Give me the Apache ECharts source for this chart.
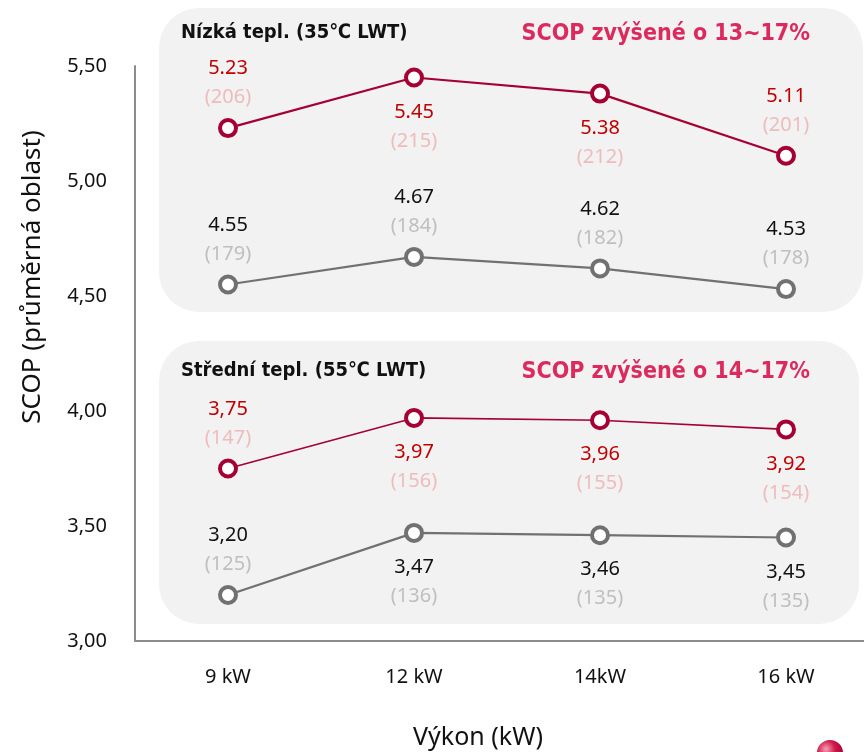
<!DOCTYPE html>
<html>
<head>
    <meta charset="utf-8" />
    <title>SCOP</title>
    <script src="https://cdn.jsdelivr.net/npm/echarts@6/dist/echarts.min.js"></script>
    <style>
        html, body { margin: 0; padding: 0; background: #fff; }
        #main { width: 864px; height: 752px; }
    </style>
</head>
<body>
<div id="main"></div>
<script type="text/javascript">
    // kategorie (vykon)
    var categories = ['9 kW', '12 kW', '14kW', '16 kW'];

    // nizka tepl. 35C LWT
    var lowNew = [5.23, 5.45, 5.38, 5.11];
    var lowNewCnt = [206, 215, 212, 201];
    var lowOld = [4.55, 4.67, 4.62, 4.53];
    var lowOldCnt = [179, 184, 182, 178];

    // stredni tepl. 55C LWT
    var midNew = [3.75, 3.97, 3.96, 3.92];
    var midNewCnt = [147, 156, 155, 154];
    var midOld = [3.20, 3.47, 3.46, 3.45];
    var midOldCnt = [125, 136, 135, 135];

    // kde je popisek (nad / pod bodem)
    var lowNewPos = ['top', 'bottom', 'bottom', 'top'];
    var lowOldPos = ['top', 'top', 'top', 'top'];
    var midNewPos = ['top', 'bottom', 'bottom', 'bottom'];
    var midOldPos = ['top', 'bottom', 'bottom', 'bottom'];

    var RED = '#a50034';
    var GRAY = '#717171';
    var FONT = 'Noto Sans';
    var HEAD = 'DejaVu Sans Condensed';

    function makeSeries(name, vals, cnts, pos, color, width, valColor, cntColor, comma) {
        var data = [];
        for (var i = 0; i < vals.length; i++) {
            data.push({
                value: vals[i],
                cnt: cnts[i],
                label: { position: pos[i], distance: pos[i] == 'top' ? 6 : 10 }
            });
        }
        return {
            name: name,
            type: 'line',
            data: data,
            symbol: 'circle',
            symbolSize: 16,
            lineStyle: { color: color, width: width },
            itemStyle: { color: '#ffffff', borderColor: color, borderWidth: 4 },
            label: {
                show: true,
                formatter: function (p) {
                    var v = p.data.value.toFixed(2);
                    if (comma) v = v.replace('.', ',');
                    return '{v|' + v + '}\n{c|(' + p.data.cnt + ')}';
                },
                rich: {
                    v: { fontFamily: FONT, fontSize: 20, color: valColor, lineHeight: 29, align: 'center' },
                    c: { fontFamily: FONT, fontSize: 20, color: cntColor, lineHeight: 29, align: 'center' }
                }
            },
            emphasis: { disabled: true },
            z: 5
        };
    }

    var option = {
        backgroundColor: '#ffffff',
        animation: false,
        grid: { left: 135, top: 66, width: 744, height: 575, outerBoundsMode: 'none', containLabel: false },
        xAxis: {
            type: 'category',
            data: categories,
            boundaryGap: true,
            axisLine: { lineStyle: { color: '#8c8c8c', width: 2 } },
            axisTick: { show: false },
            axisLabel: { fontFamily: FONT, fontSize: 20, color: '#111', margin: 26 },
            name: 'Výkon (kW)',
            nameLocation: 'middle',
            nameGap: 84,
            nameTextStyle: { fontFamily: FONT, fontSize: 25, color: '#111', padding: [0, 58, 0, 0] }
        },
        yAxis: {
            type: 'value',
            min: 3,
            max: 5.5,
            interval: 0.5,
            axisLine: { show: true, lineStyle: { color: '#8c8c8c', width: 2 } },
            axisTick: { show: false },
            splitLine: { show: false },
            axisLabel: {
                fontFamily: FONT, fontSize: 20, color: '#111', margin: 28,
                formatter: function (v) { return v.toFixed(2).replace('.', ','); }
            }
        },
        graphic: [
            { type: 'rect', shape: { x: 159, y: 8, width: 704, height: 304, r: 40 }, style: { fill: '#f2f2f2' }, z: -10 },
            { type: 'rect', shape: { x: 159, y: 341, width: 700, height: 283, r: 40 }, style: { fill: '#f2f2f2' }, z: -10 },
            { type: 'text', left: 181, top: 23, style: { text: 'Nízká tepl. (35℃ LWT)', font: 'bold 20px "' + HEAD + '"', fill: '#111' } },
            { type: 'text', right: 54, top: 23, style: { text: 'SCOP zvýšené o 13~17%', font: 'bold 23px "' + HEAD + '"', fill: '#dc2a5e' } },
            { type: 'text', left: 181, top: 361, style: { text: 'Střední tepl. (55℃ LWT)', font: 'bold 20px "' + HEAD + '"', fill: '#111' } },
            { type: 'text', right: 54, top: 361, style: { text: 'SCOP zvýšené o 14~17%', font: 'bold 23px "' + HEAD + '"', fill: '#dc2a5e' } },
            // popisek osy y
            {
                type: 'text', x: 20, y: 277, rotation: Math.PI / 2,
                style: { text: 'SCOP (průměrná oblast)', font: '26px "' + FONT + '"', fill: '#111', align: 'center', verticalAlign: 'top' }
            },
            {
                type: 'circle', shape: { cx: 830, cy: 753, r: 13 },
                style: {
                    fill: {
                        type: 'radial', x: 0.35, y: 0.35, r: 0.7,
                        colorStops: [{ offset: 0, color: '#f6a0b0' }, { offset: 0.5, color: '#d0184a' }, { offset: 1, color: '#a50034' }]
                    }
                }
            }
        ],
        series: [
            makeSeries('low new', lowNew, lowNewCnt, lowNewPos, RED, 2.2, '#c00000', '#eebcbc', false),
            makeSeries('low old', lowOld, lowOldCnt, lowOldPos, GRAY, 2.2, '#111111', '#bfbfbf', false),
            makeSeries('mid new', midNew, midNewCnt, midNewPos, RED, 1.6, '#c00000', '#eebcbc', true),
            makeSeries('mid old', midOld, midOldCnt, midOldPos, GRAY, 2.2, '#111111', '#bfbfbf', true)
        ]
    };

    var myChart = echarts.init(document.getElementById('main'));
    myChart.setOption(option);
</script>
</body>
</html>
